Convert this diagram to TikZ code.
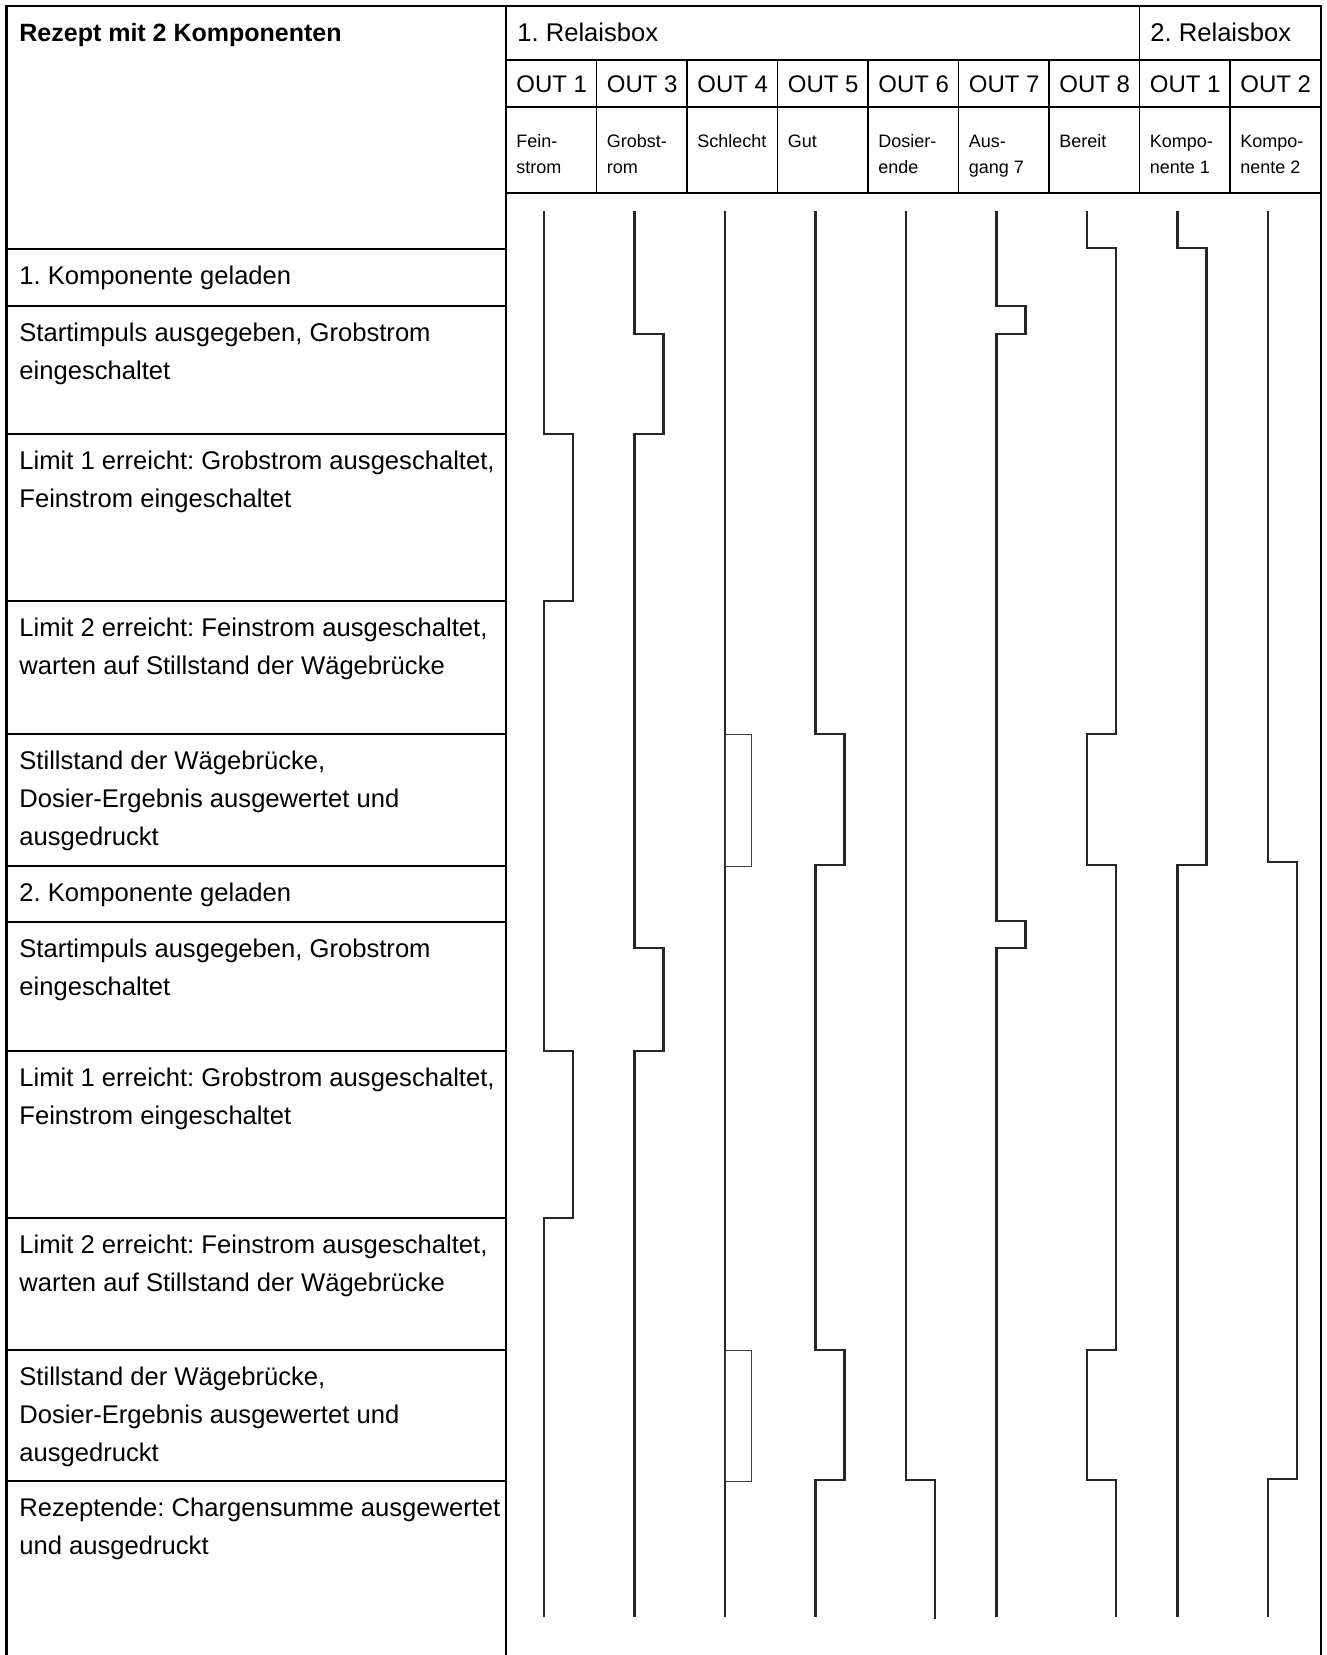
\documentclass[tikz,border=0pt]{standalone}
\usepackage{fontspec}
\setmainfont{Liberation Sans}
\frenchspacing
\newcommand\rowf{\fontsize{12.8}{19}\selectfont}
\newcommand\outf{\fontsize{12}{14}\selectfont}
\newcommand\descf{\fontsize{9}{13}\selectfont}
\tikzset{frame/.style={line width=1.2pt},grid/.style={line width=.65pt},
 sig/.style={line width=1.1pt,draw=black!85},bad/.style={line width=.5pt,draw=black!75},
 lbl/.style={anchor=base west,inner sep=0pt},
 row/.style={anchor=north west,inner sep=0pt,align=left,font=\rowf},
 desc/.style={anchor=north west,inner sep=0pt,align=left,font=\descf}}
\begin{document}
\begin{tikzpicture}[x=.5pt,y=-.5pt]
\useasboundingbox (0,0) rectangle (1327,1655);
\draw[grid] (506,60)--(1321,60) (506,107)--(1321,107) (506,193)--(1321,193);
\foreach \k in {1,...,8}{\draw[grid] (506+90.5*\k,60)--(506+90.5*\k,193);}
\draw[grid] (1139.5,6)--(1139.5,60);
\foreach \y in {249,306,434,601,734,866,922,1051,1218,1350,1481}{\draw[grid] (6.5,\y)--(506,\y);}
\draw[frame] (6.5,1660)--(6.5,6)--(1321,6)--(1321,1660);\draw[frame] (506,6)--(506,1660);
\node[lbl,font=\fontsize{12.5}{15}\selectfont\bfseries] (ttl) at (19,41) {Rezept mit 2 Komponenten};
\node[lbl,font=\rowf] (rb1) at (517,41) {1. Relaisbox};\node[lbl,font=\rowf] (rb2) at (1150,41) {2. Relaisbox};
\foreach \o [count=\k from 0] in {1,3,4,5,6,7,8,1,2}{\node[lbl,font=\outf] (o\k) at (516+90.5*\k,92) {OUT \o};}
\foreach \t [count=\k from 0] in {{Fein-\\strom},{Grobst-\\rom},Schlecht,Gut,{Dosier-\\ende},{Aus-\\gang 7},Bereit,{Kompo-\\nente 1},{Kompo-\\nente 2}}{\node[desc] (d\k) at (516+90.5*\k,128.8) {\strut\t};}
\foreach \y/\t [count=\n] in {{249/1. Komponente geladen},{306/Startimpuls ausgegeben, Grobstrom\\eingeschaltet},
 {434/Limit 1 erreicht: Grobstrom ausgeschaltet,\\Feinstrom eingeschaltet},{601/Limit 2 erreicht: Feinstrom ausgeschaltet,\\warten auf Stillstand der Wägebrücke},
 {734/Stillstand der Wägebrücke,\\Dosier-Ergebnis ausgewertet und\\ausgedruckt},{866/2. Komponente geladen},
 {922/Startimpuls ausgegeben, Grobstrom\\eingeschaltet},{1051/Limit 1 erreicht: Grobstrom ausgeschaltet,\\Feinstrom eingeschaltet},
 {1218/Limit 2 erreicht: Feinstrom ausgeschaltet,\\warten auf Stillstand der Wägebrücke},
 {1350/Stillstand der Wägebrücke,\\Dosier-Ergebnis ausgewertet und\\ausgedruckt},{1481/Rezeptende: Chargensumme ausgewertet\\und ausgedruckt}}
 {\node[row] (s\n) at (19,\y+8.4) {\strut\t};}
\draw[sig] (544,211) |- (573,434) |- (544,601) |- (573,1051) |- (544,1218) -- (544,1617);
\draw[sig] (634.5,211) |- (663.5,334) |- (634.5,434) |- (663.5,948) |- (634.5,1051) -- (634.5,1617);
\draw[sig] (725,211) -- (725,1617);\draw[bad] (725,734) rectangle (751,866);\draw[bad] (725,1350) rectangle (751,1481);
\draw[sig] (815.5,211) |- (844.5,734) |- (815.5,865) |- (844.5,1350) |- (815.5,1480) -- (815.5,1617);
\draw[sig] (906,211) |- (935,1480) -- (935,1619);
\draw[sig] (996.5,211) |- (1025.5,306) |- (996.5,334) |- (1025.5,921) |- (996.5,948) -- (996.5,1617);
\draw[sig] (1087,211) |- (1116,248) |- (1087,734) |- (1116,865) |- (1087,1350) |- (1116,1480) -- (1116,1617);
\draw[sig] (1177.5,211) |- (1206.5,248) |- (1177.5,865) -- (1177.5,1617);
\draw[sig] (1268,211) |- (1297,862) |- (1268,1479) -- (1268,1617);
\end{tikzpicture}
\end{document}
